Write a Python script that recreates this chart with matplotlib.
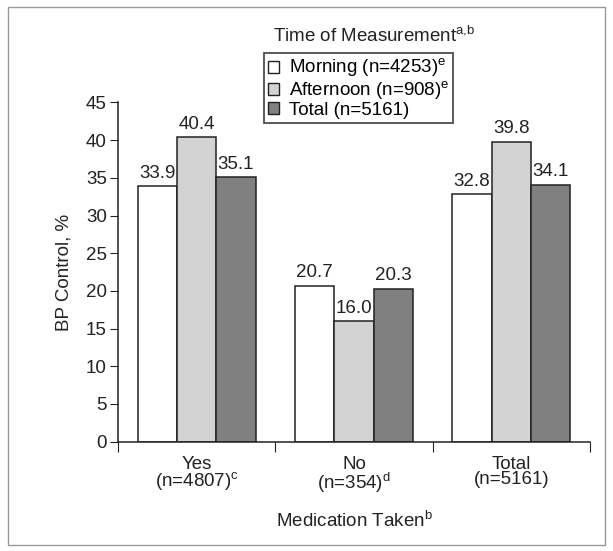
import matplotlib
matplotlib.use("Agg")
import matplotlib.pyplot as plt
import numpy as np
from matplotlib.patches import Rectangle, Patch

plt.rcParams['font.family'] = ['Liberation Sans', 'DejaVu Sans']
plt.rcParams['mathtext.fontset'] = 'custom'
plt.rcParams['mathtext.rm'] = 'Liberation Sans'

categories = ['Yes\n(n=4807)$^{\\mathregular{c}}$', 'No\n(n=354)$^{\\mathregular{d}}$', 'Total\n(n=5161)']
series = ['Morning (n=4253)$^{\\mathregular{e}}$', 'Afternoon (n=908)$^{\\mathregular{e}}$', 'Total (n=5161)']
morning = [33.9, 20.7, 32.8]
afternoon = [40.4, 16.0, 39.8]
total = [35.1, 20.3, 34.1]
colors = ['white', '#d3d3d3', '#808080']
fs = 13.5
ink = '#222222'

fig = plt.figure(figsize=(6.13, 5.51), dpi=100)
ax = fig.add_axes([0.1925, 0.1984, 0.77, 0.6156])

x = np.arange(len(categories))
w = 0.25
for i, vals in enumerate([morning, afternoon, total]):
    bars = ax.bar(x + (i - 1) * w, vals, w, color=colors[i], edgecolor=ink, linewidth=1.1)
    for b, v in zip(bars, vals):
        ax.text(b.get_x() + b.get_width() / 2, v + 0.6, '%.1f' % v, ha='center', va='bottom', fontsize=fs, color=ink)

ax.set_xlim(-0.5, 2.5)
ax.set_ylim(0, 45)
ax.set_yticks(np.arange(0, 46, 5))
ax.set_xticks([-0.5, 0.5, 1.5, 2.5])
ax.set_xticklabels([])
ax.set_xticks(x, minor=True)
ax.set_xticklabels(categories, minor=True, fontsize=fs, color=ink, linespacing=0.88)
ax.tick_params(axis='x', which='minor', length=0, pad=10)
ax.tick_params(axis='x', which='major', length=7, direction='out', color=ink)
ax.tick_params(axis='y', length=6, labelsize=fs, colors=ink, pad=2)
for s in ['top', 'right']:
    ax.spines[s].set_visible(False)
for s in ['left', 'bottom']:
    ax.spines[s].set_color(ink)
    ax.spines[s].set_linewidth(1.1)
ax.set_ylabel('BP Control, %', fontsize=fs, color=ink, labelpad=10)
ax.set_xlabel('Medication Taken$^{\\mathregular{b}}$', fontsize=fs, color=ink, labelpad=11)

handles = [Patch(facecolor=c, edgecolor=ink) for c in colors]
leg = fig.legend(handles, series, loc='upper left', bbox_to_anchor=(0.431, 0.904),
                 frameon=True, fancybox=False, fontsize=fs, handlelength=0.6, handleheight=0.6,
                 handletextpad=0.5, borderpad=0.2, labelspacing=0.0, borderaxespad=0)
leg.get_frame().set_edgecolor(ink)
leg.get_frame().set_linewidth(1.3)
fig.text(0.445, 0.936, 'Time of Measurement$^{\\mathregular{a{,}b}}$', fontsize=fs, color=ink, va='center')

fig.patches.append(Rectangle((0.013, 0.011), 0.974, 0.977, transform=fig.transFigure,
                             fill=False, edgecolor='#999999', linewidth=1))

fig.savefig('out.png', dpi=100)
